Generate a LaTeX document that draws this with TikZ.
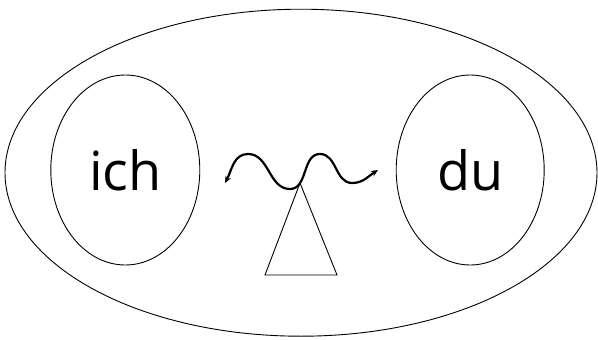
\documentclass[tikz,border=0pt]{standalone}
\usepackage{fontspec}
\setmainfont{Open Sans}
\usepackage{tikz}
\usetikzlibrary{shapes.geometric,arrows.meta}

\begin{document}
\begin{tikzpicture}[x=1pt, y=-1pt,
    every node/.style={font=\fontsize{54}{60}\selectfont},
    bubble/.style={draw, ellipse, line width=.9pt, inner sep=0pt},
    wave/.style={line width=2.2pt, {Stealth[length=7pt,width=6pt]}-{Stealth[length=7pt,width=6pt]}}]
  \useasboundingbox (0,0) rectangle (598,340);
  \node[bubble, minimum width=592, minimum height=327] (world) at (301,172.7) {};
  \node[bubble, minimum width=149, minimum height=190] (ich) at (125.3,170) {ich};
  \node[bubble, minimum width=148, minimum height=190] (du) at (470.2,170) {du};
  \foreach \n/\x/\y in {wl/225/183,p1/248/154,t1/290/189,p2/320/154,t2/352/183,wr/378/170,apex/300/183,bl/265/275,br/337/275}
    \coordinate (\n) at (\x,\y);
  \draw[line width=.9pt] (apex) -- (bl) -- (br) -- cycle;
  \draw[wave] (wl) to[out=62,in=180] (p1) to[out=0,in=180] (t1) to[out=0,in=180] (p2)
    to[out=0,in=180] (t2) to[out=0,in=212] (wr);
\end{tikzpicture}
\end{document}
